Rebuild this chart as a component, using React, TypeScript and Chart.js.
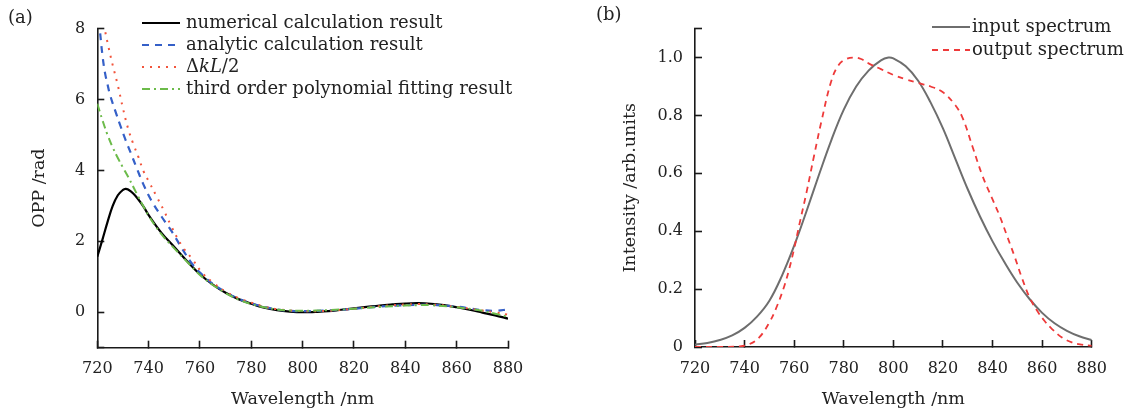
import React, { useEffect, useRef } from "react";
import { Chart, registerables } from "chart.js";

Chart.register(...registerables);

const FONT = '"DejaVu Serif", "Liberation Serif", serif';
const TEXT = "#222";
const AXIS = "#1a1a1a";

// ---------- panel (a): OPP vs wavelength ----------
const wlNumerical = [720, 722, 724, 726, 728, 730, 731, 732, 734, 736, 738, 740, 745, 750, 755, 760, 765, 770, 775, 780, 785, 790, 795, 800, 805, 810, 815, 820, 825, 830, 835, 840, 845, 850, 855, 860, 865, 870, 875, 880];
const oppNumerical = [1.57, 2.05, 2.55, 3.0, 3.3, 3.45, 3.48, 3.46, 3.35, 3.18, 2.98, 2.74, 2.24, 1.84, 1.44, 1.07, 0.78, 0.55, 0.37, 0.24, 0.13, 0.06, 0.02, 0.0, 0.01, 0.03, 0.07, 0.11, 0.15, 0.19, 0.22, 0.245, 0.255, 0.24, 0.2, 0.14, 0.07, -0.01, -0.09, -0.18];

const wlAnalytic = [720, 721, 722, 723, 724, 725, 727, 729, 731, 733, 735, 738, 741, 745, 749, 753, 757, 761, 765, 770, 775, 780, 785, 790, 795, 800, 810, 820, 830, 840, 845, 850, 860, 865, 870, 875, 880];
const oppAnalytic = [8.6, 7.95, 7.25, 6.75, 6.42, 6.12, 5.68, 5.26, 4.86, 4.5, 4.13, 3.6, 3.16, 2.7, 2.28, 1.8, 1.36, 1.05, 0.8, 0.57, 0.38, 0.25, 0.15, 0.08, 0.04, 0.03, 0.05, 0.1, 0.16, 0.2, 0.21, 0.21, 0.16, 0.11, 0.06, 0.04, 0.08];

const wlDeltaKL = [720, 722, 724, 726, 728, 730, 732, 734, 736, 738, 740, 743, 746, 749, 753, 757, 761, 765, 770, 775, 780, 785, 790, 800, 810, 820, 830, 840, 845, 850, 860, 870, 875, 880];
const oppDeltaKL = [9.0, 8.3, 7.6, 6.97, 6.4, 5.75, 5.18, 4.75, 4.38, 3.98, 3.7, 3.28, 2.86, 2.4, 1.87, 1.5, 1.1, 0.84, 0.58, 0.4, 0.27, 0.16, 0.09, 0.03, 0.04, 0.1, 0.17, 0.22, 0.23, 0.22, 0.15, 0.05, 0.0, -0.07];

const wlPolyFit = [720, 722, 724, 726, 728, 730, 732, 734, 736, 738, 740, 745, 750, 755, 760, 765, 770, 775, 780, 785, 790, 795, 800, 810, 820, 830, 840, 845, 850, 860, 870, 875, 880];
const oppPolyFit = [5.88, 5.42, 5.0, 4.65, 4.35, 4.08, 3.82, 3.54, 3.25, 2.98, 2.72, 2.2, 1.8, 1.42, 1.05, 0.77, 0.54, 0.36, 0.23, 0.14, 0.08, 0.05, 0.04, 0.06, 0.1, 0.15, 0.19, 0.2, 0.2, 0.14, 0.04, -0.04, -0.13];

// ---------- panel (b): spectra ----------
const wlInput = [720, 725, 730, 735, 740, 745, 750, 755, 760, 765, 770, 775, 780, 785, 790, 795, 798, 800, 805, 810, 815, 820, 825, 830, 835, 840, 845, 850, 855, 860, 865, 870, 875, 880];
const intInput = [0.008, 0.014, 0.024, 0.04, 0.066, 0.105, 0.16, 0.245, 0.35, 0.47, 0.595, 0.715, 0.82, 0.9, 0.955, 0.99, 1.0, 0.997, 0.97, 0.92, 0.845, 0.755, 0.65, 0.545, 0.45, 0.365, 0.29, 0.222, 0.165, 0.118, 0.082, 0.056, 0.037, 0.024];

const wlOutput = [720, 730, 738, 742, 746, 750, 753, 756, 758, 760, 762, 765, 768, 771, 775, 778, 781, 784, 787, 790, 795, 800, 805, 810, 815, 820, 825, 828, 832, 836, 840, 843, 846, 849, 852, 855, 858, 861, 864, 868, 872, 876, 880];
const intOutput = [0, 0, 0.002, 0.01, 0.034, 0.085, 0.14, 0.21, 0.27, 0.34, 0.42, 0.535, 0.66, 0.78, 0.92, 0.975, 0.995, 1.0, 0.995, 0.98, 0.96, 0.94, 0.925, 0.912, 0.9, 0.88, 0.835, 0.79, 0.69, 0.59, 0.51, 0.45, 0.38, 0.31, 0.235, 0.17, 0.125, 0.09, 0.062, 0.033, 0.016, 0.008, 0.004];

const legendA = ["numerical calculation result", "analytic calculation result", "ΔkL/2", "third order polynomial fitting result"];
const legendB = ["input spectrum", "output spectrum"];

const pts = (xs: number[], ys: number[]) => xs.map((x, i) => ({ x, y: ys[i] }));

type Part = { t: string; italic?: boolean };
type Item = { parts: Part[]; color: string; width: number; dash: number[] };

function overlayPlugin(panel: string, px: number, py: number, items: Item[], g: { x1: number; x2: number; tx: number; y0: number; dy: number }) {
  return {
    id: "overlay",
    afterDraw(chart: any) {
      const ctx = chart.ctx as CanvasRenderingContext2D;
      ctx.save();
      ctx.fillStyle = TEXT;
      ctx.textBaseline = "middle";
      ctx.textAlign = "left";
      ctx.font = `18px ${FONT}`;
      ctx.fillText(panel, px, py);
      items.forEach((it, i) => {
        const y = g.y0 + i * g.dy;
        ctx.beginPath();
        ctx.setLineDash(it.dash);
        ctx.strokeStyle = it.color;
        ctx.lineWidth = it.width;
        ctx.moveTo(g.x1, y);
        ctx.lineTo(g.x2, y);
        ctx.stroke();
        ctx.setLineDash([]);
        let x = g.tx;
        for (const p of it.parts) {
          ctx.font = `${p.italic ? "italic " : ""}18px ${FONT}`;
          ctx.fillStyle = TEXT;
          ctx.fillText(p.t, x, y);
          x += ctx.measureText(p.t).width;
        }
      });
      ctx.restore();
    },
  };
}

function baseOptions(cfg: any) {
  const tickFont = { family: FONT, size: 16 };
  const titleFont = { family: FONT, size: 17.5 };
  const grid = { drawOnChartArea: false, drawTicks: true, tickLength: -7, tickWidth: 1.6, tickColor: AXIS };
  const border = { display: true, color: AXIS, width: 1.6 };
  return {
    responsive: false,
    animation: false,
    layout: { padding: { left: 0, right: cfg.padRight, top: cfg.padTop, bottom: 0 } },
    plugins: { legend: { display: false }, tooltip: { enabled: false } },
    elements: { point: { radius: 0 }, line: { tension: 0.4, cubicInterpolationMode: "default" } },
    scales: {
      x: {
        type: "linear",
        min: 720,
        max: 880,
        ticks: { stepSize: 20, padding: 19, color: TEXT, font: tickFont, maxRotation: 0, autoSkip: false, callback: (v: any) => String(v) },
        grid,
        border,
        title: { display: true, text: "Wavelength /nm", color: TEXT, font: titleFont, padding: { top: 0, bottom: 0 } },
        afterFit: (s: any) => { s.height = cfg.xHeight; },
      },
      y: {
        type: "linear",
        min: cfg.yMin,
        max: cfg.yMax,
        ticks: { stepSize: cfg.yStep, padding: 19, color: TEXT, font: tickFont, autoSkip: false, callback: cfg.yFmt },
        grid,
        border,
        title: { display: true, text: cfg.yTitle, color: TEXT, font: titleFont, padding: { top: cfg.yTitlePad, bottom: 0 } },
        afterFit: (s: any) => { s.width = cfg.yWidth; },
      },
    },
  };
}

function PanelA() {
  const ref = useRef<HTMLCanvasElement>(null);
  useEffect(() => {
    const items: Item[] = [
      { parts: [{ t: legendA[0] }], color: "#000000", width: 2.2, dash: [] },
      { parts: [{ t: legendA[1] }], color: "#3560c8", width: 2.2, dash: [7, 6] },
      { parts: [{ t: "Δ" }, { t: "kL", italic: true }, { t: "/2" }], color: "#f2553c", width: 2, dash: [2, 6] },
      { parts: [{ t: legendA[3] }], color: "#6cbb4a", width: 2, dash: [8, 4, 2, 4] },
    ];
    const chart = new Chart(ref.current!, {
      type: "line",
      data: {
        datasets: [
          { data: pts(wlNumerical, oppNumerical), borderColor: "#000000", borderWidth: 2.2, order: 4 },
          { data: pts(wlAnalytic, oppAnalytic), borderColor: "#3560c8", borderWidth: 2.2, borderDash: [7, 6], order: 3 },
          { data: pts(wlDeltaKL, oppDeltaKL), borderColor: "#f2553c", borderWidth: 2, borderDash: [2, 6], order: 2 },
          { data: pts(wlPolyFit, oppPolyFit), borderColor: "#6cbb4a", borderWidth: 2, borderDash: [8, 4, 2, 4], order: 1 },
        ],
      } as any,
      options: baseOptions({
        padRight: 52, padTop: 16, xHeight: 62.3, yWidth: 97.3,
        yMin: -1, yMax: 8, yStep: 2, yTitle: "OPP /rad", yTitlePad: 29,
        yFmt: (v: any) => (v === -1 ? "" : String(v)),
      }) as any,
      plugins: [overlayPlugin("(a)", 8, 18, items, { x1: 142, x2: 180, tx: 186, y0: 23, dy: 22 })],
    });
    return () => chart.destroy();
  }, []);
  return <canvas ref={ref} width={560} height={410} style={{ position: "absolute", left: 0, top: 0, width: 560, height: 410 }} />;
}

function PanelB() {
  const ref = useRef<HTMLCanvasElement>(null);
  useEffect(() => {
    const items: Item[] = [
      { parts: [{ t: legendB[0] }], color: "#6e6e6e", width: 2, dash: [] },
      { parts: [{ t: legendB[1] }], color: "#ee3a3a", width: 1.8, dash: [6, 5] },
    ];
    const chart = new Chart(ref.current!, {
      type: "line",
      data: {
        datasets: [
          { data: pts(wlInput, intInput), borderColor: "#6e6e6e", borderWidth: 2, order: 2 },
          { data: pts(wlOutput, intOutput), borderColor: "#ee3a3a", borderWidth: 1.8, borderDash: [6, 5], order: 1 },
        ],
      } as any,
      options: baseOptions({
        padRight: 19, padTop: 15, xHeight: 63, yWidth: 129,
        yMin: 0, yMax: 1.1, yStep: 0.2, yTitle: "Intensity /arb.units", yTitlePad: 54,
        yFmt: (v: any) => (Math.abs(v - 1.1) < 1e-6 ? "" : v === 0 ? "0" : Number(v).toFixed(1)),
      }) as any,
      plugins: [overlayPlugin("(b)", 30, 15, items, { x1: 366, x2: 404, tx: 406, y0: 27, dy: 23 })],
    });
    return () => chart.destroy();
  }, []);
  return <canvas ref={ref} width={560} height={410} style={{ position: "absolute", left: 566, top: 0, width: 560, height: 410 }} />;
}

export default function App() {
  return (
    <div style={{ position: "absolute", left: 0, top: 0, width: 1126, height: 410, background: "#fff", overflow: "hidden" }}>
      <PanelA />
      <PanelB />
    </div>
  );
}
